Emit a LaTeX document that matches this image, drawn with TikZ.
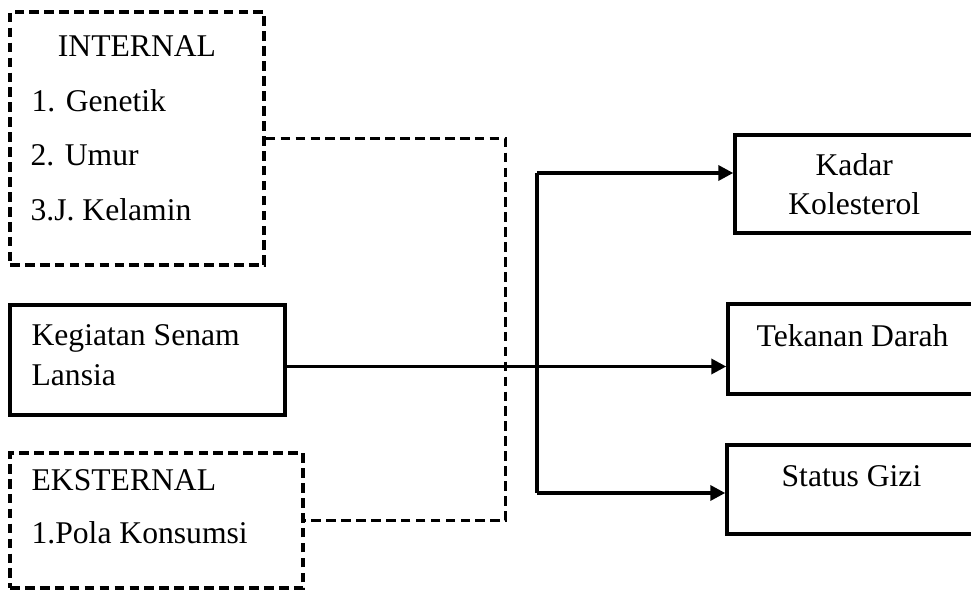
\documentclass[tikz,border=0pt]{standalone}
\usepackage{fontspec}
\setmainfont{Liberation Serif}
\usetikzlibrary{arrows.meta}
\usetikzlibrary{calc}

\begin{document}
\begin{tikzpicture}[
  x=0.02cm, y=-0.02cm,
  box/.style={
      draw,
      rectangle,
      line width=2pt,
      inner sep=0pt
    },
  dash box/.style={
      box,
      dash pattern=on 5.5pt off 3pt
    },
  dash link/.style={
      line width=2pt,
      dash pattern=on 5.5pt off 3pt
    },
  flow/.style={
      line width=2pt,
      line join=miter
    },
  flow arrow/.style={
      flow,
      arrows = {-Triangle[length=8.5pt,width=8.5pt]}
    },
  txt/.style={
      anchor=base west,
      inner sep=0pt,
      font=\fontsize{18}{22}\selectfont
    }]

  \clip (0,0) rectangle (971,592);

  % left side
  \node [dash box, minimum width=5.08cm, minimum height=5.06cm] (internal) at (137,138.5) {};
  \node [box, minimum width=5.5cm, minimum height=2.2cm] (kegiatan) at (147.5,360) {};
  \node [dash box, minimum width=5.86cm, minimum height=2.7cm] (eksternal) at (156.5,520.5) {};

  \node [txt, anchor=base] (internal_label) at ($(internal.north) + (0,46)$) {INTERNAL};
  \node [txt] (genetik) at ($(internal.north west) + (23,101)$) {1. Genetik};
  \node [txt] (umur) at ($(internal.north west) + (22,155)$) {2. Umur};
  \node [txt] (kelamin) at ($(internal.north west) + (22,210)$) {3.J. Kelamin};

  \node [txt] (kegiatan_a) at ($(kegiatan.north west) + (23,42)$) {Kegiatan Senam};
  \node [txt] (kegiatan_b) at ($(kegiatan.north west) + (23,82)$) {Lansia};

  \node [txt] (eksternal_label) at ($(eksternal.north west) + (23,39)$) {EKSTERNAL};
  \node [txt] (pola) at ($(eksternal.north west) + (23,92)$) {1.Pola Konsumsi};

  % right side
  \node [box, minimum width=5.3cm, minimum height=1.96cm] (kadar) at (867.5,184) {};
  \node [box, minimum width=5.44cm, minimum height=1.8cm] (tekanan) at (864,349) {};
  \node [box, minimum width=5.46cm, minimum height=1.78cm] (status) at (863.5,489.5) {};

  \node [txt, anchor=base] (kadar_a) at ($(kadar.north west) + (121,42)$) {Kadar};
  \node [txt, anchor=base] (kadar_b) at ($(kadar.north west) + (121,81)$) {Kolesterol};
  \node [txt] (tekanan_label) at ($(tekanan.north west) + (30,44)$) {Tekanan Darah};
  \node [txt] (status_label) at ($(status.north west) + (56,43)$) {Status Gizi};

  % connectors
  \coordinate (merge) at (505.5,330);
  \draw [dash link] (internal.east) -| (merge) |- (eksternal.east);

  \coordinate (split_top) at (537,173);
  \coordinate (split_bot) at (537,493);
  \draw [flow] (split_top) -- (split_bot);
  \draw [flow arrow] (split_top) -- (split_top -| kadar.west);
  \draw [flow arrow] (split_bot) -- (split_bot -| status.west);
  \draw [flow arrow] ([yshift=-0.13cm]kegiatan.east) -- ([yshift=-0.13cm]kegiatan.east -| tekanan.west);
\end{tikzpicture}
\end{document}
